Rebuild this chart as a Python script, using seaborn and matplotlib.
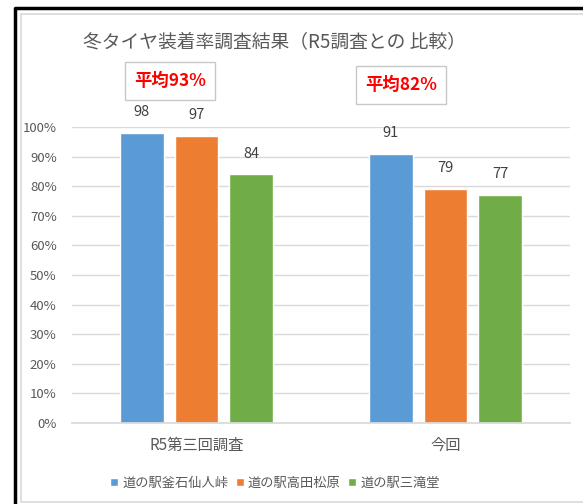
import matplotlib
matplotlib.use("Agg")
import matplotlib.pyplot as plt
import seaborn as sns
import pandas as pd
from matplotlib.lines import Line2D
from matplotlib.patches import Rectangle

categories = ["R5第三回調査", "今回"]
series = ["道の駅釜石仙人峠", "道の駅高田松原", "道の駅三滝堂"]
values_kamaishi = [98, 91]
values_takata = [97, 79]
values_santaki = [84, 77]
averages = ["平均93%", "平均82%"]
yticks = [0, 10, 20, 30, 40, 50, 60, 70, 80, 90, 100]
colors = ["#5B9BD5", "#ED7D31", "#70AD47"]

rows = []
for s, vals in zip(series, [values_kamaishi, values_takata, values_santaki]):
    for c, v in zip(categories, vals):
        rows.append({"cat": c, "series": s, "value": v})
df = pd.DataFrame(rows)

sns.set_theme(style="white")
plt.rcParams['font.family'] = ['Noto Sans CJK JP', 'DejaVu Sans']

fig = plt.figure(figsize=(5.83, 5.04), dpi=100)
W, H = 583, 504
ax = fig.add_axes([72 / W, 1 - 423 / H, (570 - 72) / W, (423 - 127) / H])

sns.barplot(data=df, x="cat", y="value", hue="series", order=categories,
            hue_order=series, palette=colors, width=0.66, gap=0.2,
            saturation=1, ax=ax, legend=False)

ax.set_ylim(0, 100)
ax.set_xlim(-0.5, 1.5)
ax.set_yticks(yticks)
ax.set_yticklabels([f"{t}%" for t in yticks], color="#595959", fontsize=9.5)
ax.tick_params(axis="y", length=0, pad=11)
ax.tick_params(axis="x", length=0, pad=10, labelsize=11, labelcolor="#595959")
ax.yaxis.grid(True, color="#D9D9D9", linewidth=1)
ax.set_axisbelow(True)
for sp in ["top", "right", "left"]:
    ax.spines[sp].set_visible(False)
ax.spines["bottom"].set_color("#D9D9D9")
ax.set_xlabel("")
ax.set_ylabel("")

for cont in ax.containers:
    for bar in cont:
        h = bar.get_height()
        ax.annotate(f"{h:.0f}", (bar.get_x() + bar.get_width() / 2, h),
                    xytext=(0, 15), textcoords="offset points",
                    ha="center", va="center", fontsize=10.5, color="#404040")

# Average boxes
box_pos = [(170 / W, 1 - 81 / H), (401 / W, 1 - 85 / H)]
for txt, (bx, by) in zip(averages, box_pos):
    fig.text(bx, by, txt, ha="center", va="center", color="#FF0000",
             fontsize=12.5, fontweight="bold",
             bbox=dict(boxstyle="square,pad=0.55", fc="white", ec="#C8C8C8", lw=1))

fig.text(274 / W, 1 - 42 / H, "冬タイヤ装着率調査結果（R5調査との 比較）",
         ha="center", va="center", fontsize=13.5, color="#595959")

handles = [Rectangle((0, 0), 1, 1, fc=c) for c in colors]
fig.legend(handles, series, loc="center", bbox_to_anchor=(275 / W, 1 - 483 / H),
           ncol=3, frameon=False, fontsize=9.5, handlelength=0.6, handleheight=0.6,
           handletextpad=0.3, columnspacing=0.6, labelcolor="#595959")

# Borders
fig.add_artist(Line2D([21 / W, 21 / W, 1.01], [1 - 14 / H, 1 - 502 / H, 1 - 502 / H],
                      transform=fig.transFigure, color="#D9D9D9", lw=1.2))
fig.add_artist(Line2D([21 / W, 1.01], [1 - 14 / H, 1 - 14 / H],
                      transform=fig.transFigure, color="#D9D9D9", lw=1.2))
fig.add_artist(Line2D([15 / W, 15 / W, 1.01], [-0.01, 1 - 8 / H, 1 - 8 / H],
                      transform=fig.transFigure, color="black", lw=2.5))

fig.savefig("out.png", dpi=100)
